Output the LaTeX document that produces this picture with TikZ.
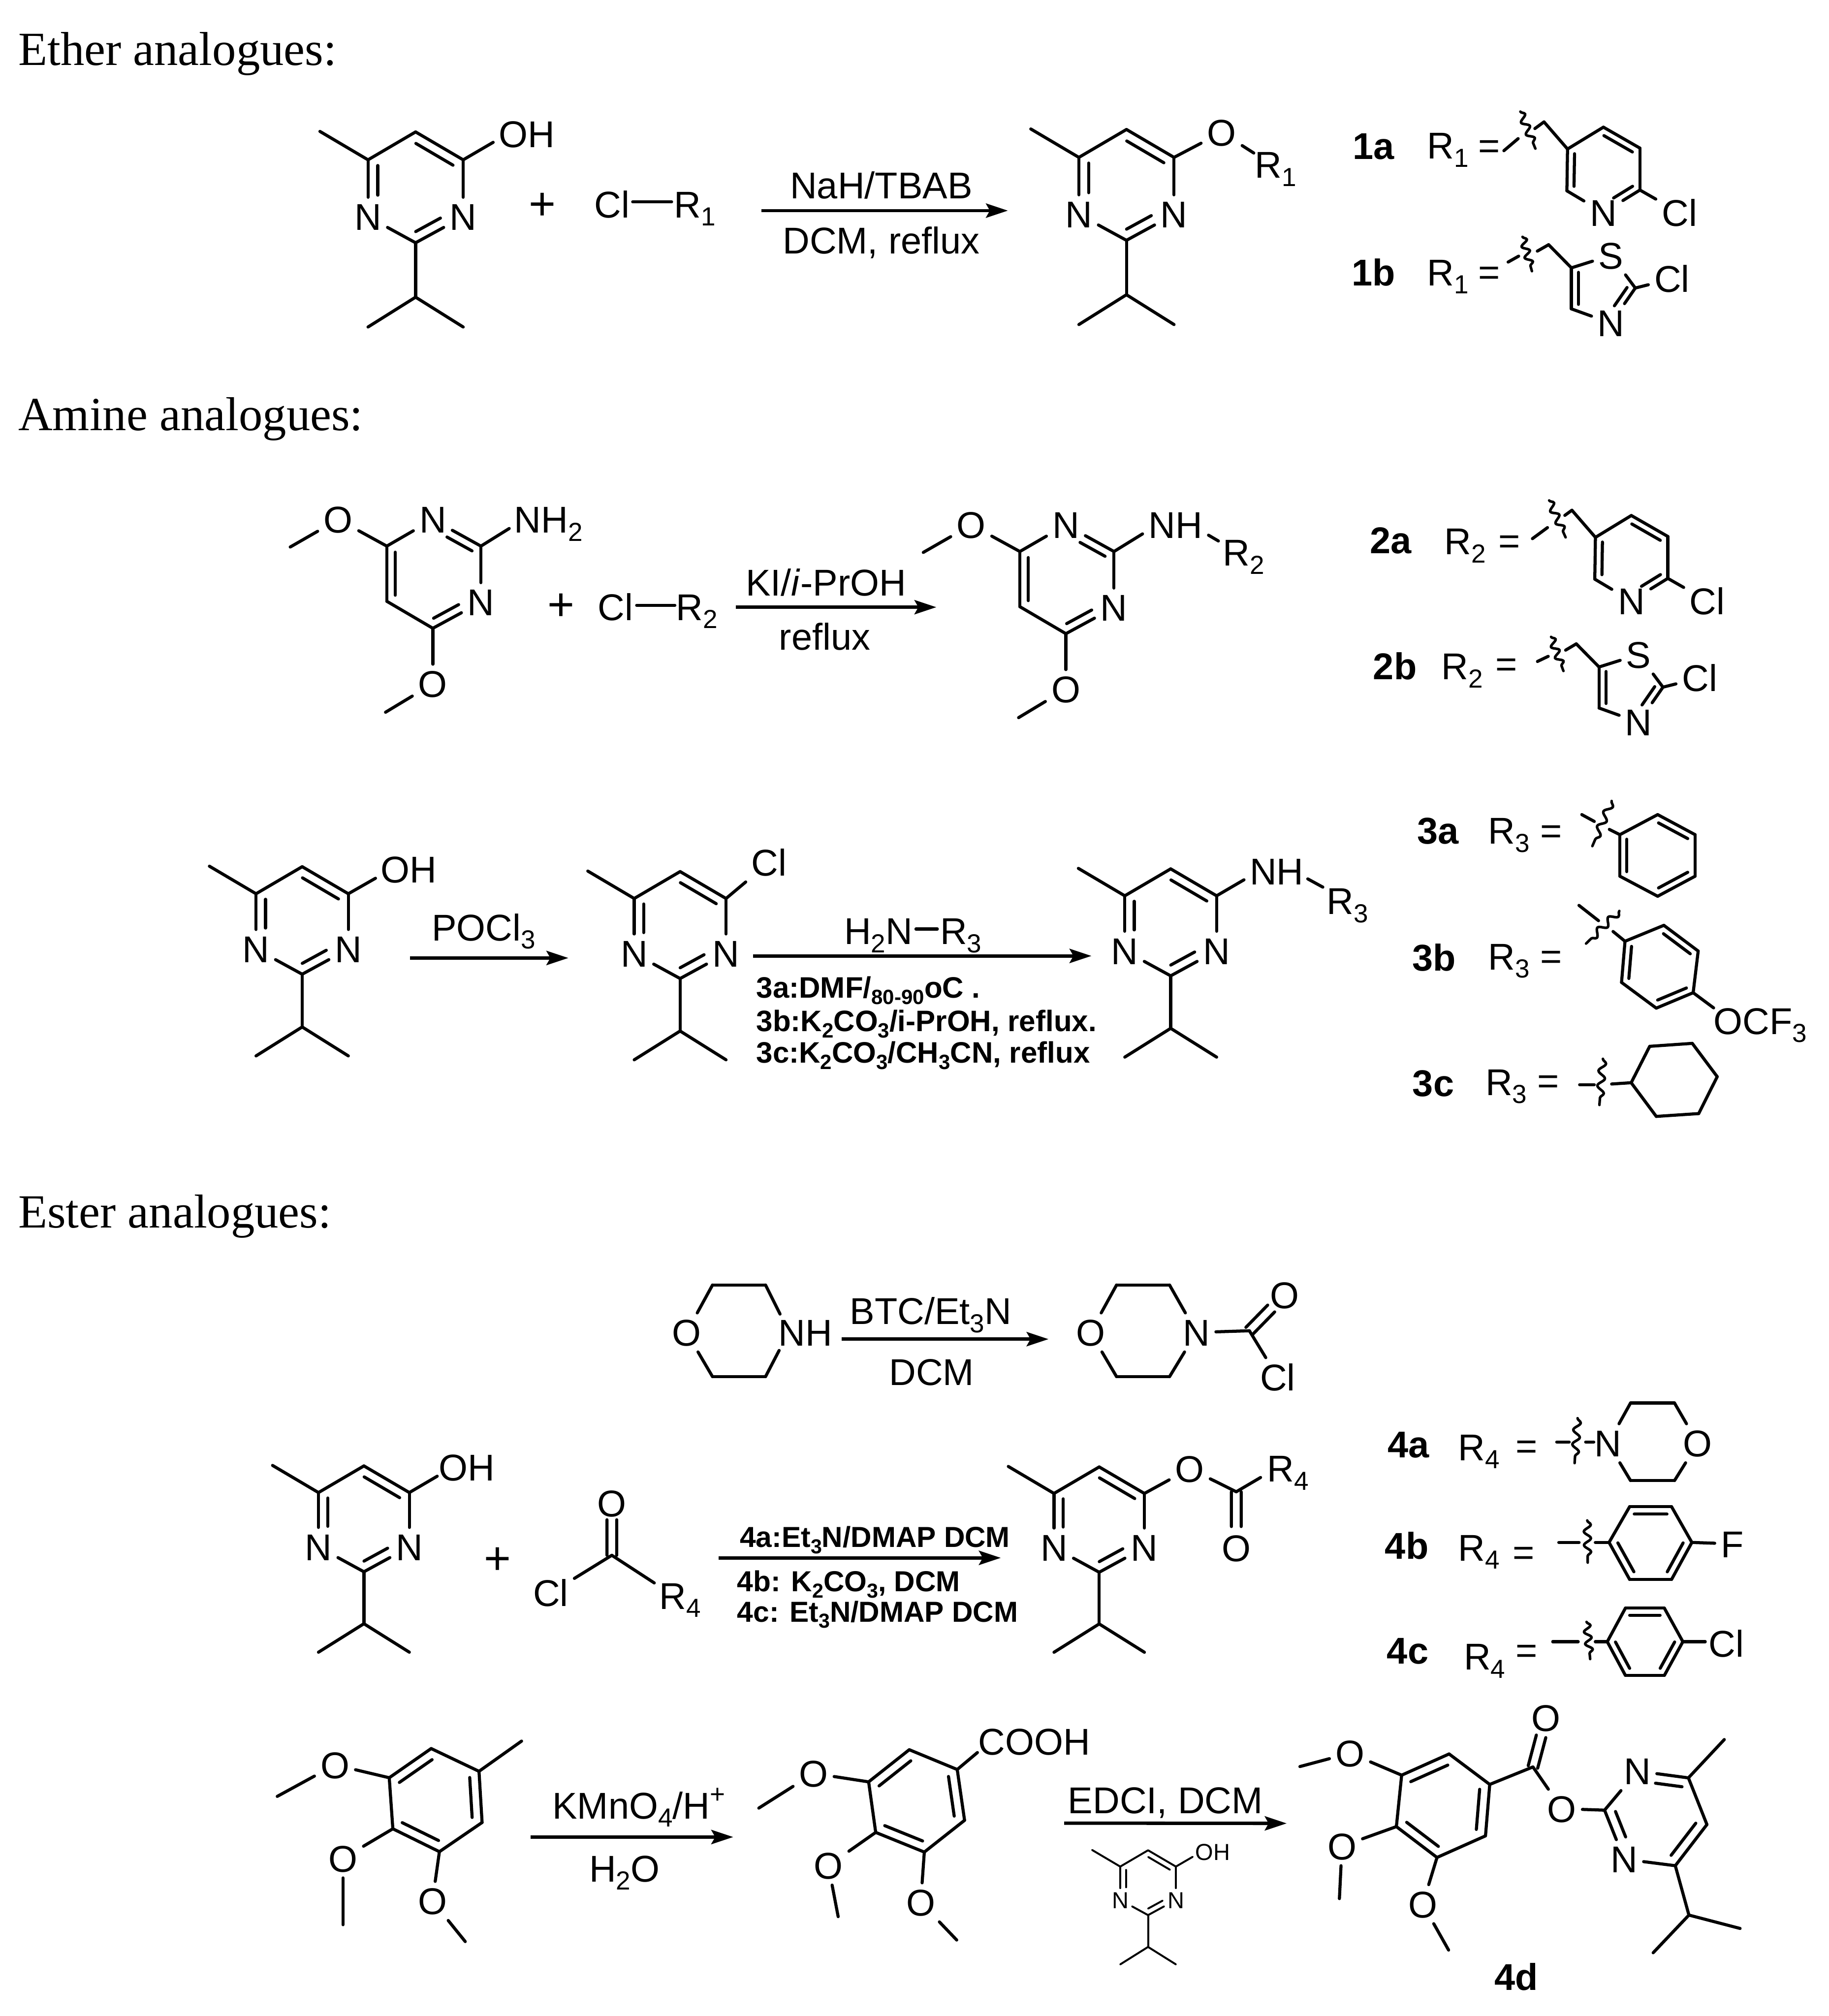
\documentclass[tikz,border=0pt]{standalone}
\usepackage{fontspec}
\setmainfont{Liberation Sans}
\newfontfamily\serf{Liberation Serif}
\usetikzlibrary{calc,arrows.meta,decorations.pathmorphing}
\newcommand{\lsub}[1]{\raisebox{-0.22em}{\scalebox{0.7}{#1}}}
\newcommand{\lsup}[1]{\raisebox{0.42em}{\scalebox{0.7}{#1}}}
\tikzset{
 bond/.style={line width=2.4pt,line cap=round},
 wvb/.style={line width=2pt,line cap=round},
 rxn/.style={line width=2.6pt,-{Stealth[length=17pt,width=11pt,inset=3pt]}},
 lab/.style={font=\fontsize{29}{29}\selectfont,inner sep=4.5pt,text height=21pt,text depth=0pt},
 wst/.style={anchor=west,xshift=-3.8pt},
 bb/.style={lab,font=\bfseries\fontsize{29}{29}\selectfont},
 slab/.style={font=\fontsize{18}{18}\selectfont,inner sep=2.5pt,text height=13pt,text depth=0pt},
 rg/.style={lab,anchor=west,inner sep=3pt,font=\bfseries\fontsize{22.5}{22.5}\selectfont,text height=16pt},
 rgb/.style={rg,font=\bfseries\fontsize{23}{23}\selectfont},
 hd/.style={font=\serf\fontsize{37}{37}\selectfont,inner sep=0pt,anchor=west},
 plusn/.style={font=\fontsize{36}{36}\selectfont,inner sep=0pt},
}
\newcommand{\atm}[3]{\coordinate (#1) at (#2,#3);}
\newcommand{\lbl}[4][]{\node[lab,#1] (#2) at (#3) {#4};}
\newcommand{\bnd}[2]{\draw[bond] (#1) -- (#2);}
\newcommand{\dblx}[5][7.5]{\draw[bond] (#2) -- (#3);\draw[bond] ($(#2)!#4!(#3)!#1pt!-90:(#3)$) -- ($(#2)!#5!(#3)!#1pt!-90:(#3)$);}
\newcommand{\dbl}[3][7.5]{\dblx[#1]{#2}{#3}{0.11}{0.89}}
\newcommand{\dblN}[3][7.5]{\dblx[#1]{#2}{#3}{0.1}{0.62}}
\newcommand{\Ndbl}[3][7.5]{\dblx[#1]{#2}{#3}{0.38}{0.9}}
\newcommand{\dblc}[3]{\draw[bond] ($(#1)!3.8pt!90:(#2)$) -- ($(#1)!#3!(#2)!3.8pt!90:(#2)$);\draw[bond] ($(#1)!3.8pt!-90:(#2)$) -- ($(#1)!#3!(#2)!3.8pt!-90:(#2)$);}
\newcommand{\wav}[2]{\draw[wvb] let \p1=($(#2)-(#1)$),\n1={veclen(\x1,\y1)/3.1} in decorate[decoration={snake,segment length=\n1,amplitude=2.7pt}] {(#1) -- (#2)};}
% stub + wavy line
\newcommand{\wvs}[5]{\coordinate (#1s1) at (#2);\coordinate (#1s2) at (#3);\coordinate (#1w1) at (#4);\coordinate (#1w2) at (#5);\bnd{#1s1}{#1s2}\wav{#1w1}{#1w2}}
% pyrimidine with methyl and isopropyl
\newcommand{\pyrim}[5]{%
 \begin{scope}[shift={(#2,#3)},scale=#4]
  \coordinate (#1c5) at (0,0);\coordinate (#1c6) at (-37,21.7);\coordinate (#1c4) at (37,21.7);
  \node[#5] (#1n1) at (-37,66) {N};\node[#5] (#1n3) at (37,66) {N};
  \coordinate (#1c2) at (0,86.2);\coordinate (#1ch) at (0,128.5);
  \coordinate (#1m1) at (-37,151.7);\coordinate (#1m2) at (37,151.7);\coordinate (#1me) at (-74.4,-0.4);
 \end{scope}
 \pgfmathsetmacro\po{7.6*#4}
 \bnd{#1me}{#1c6}\bnd{#1c6}{#1c5}\dbl[\po]{#1c5}{#1c4}\bnd{#1c4}{#1n3}\Ndbl[\po]{#1n3}{#1c2}
 \bnd{#1c2}{#1n1}\Ndbl[\po]{#1n1}{#1c6}\bnd{#1c2}{#1ch}\bnd{#1ch}{#1m1}\bnd{#1ch}{#1m2}}
% dimethoxypyrimidine
\newcommand{\dmp}[3]{%
 \begin{scope}[shift={(#2,#3)}]
  \lbl{#1o1}{263,404}{O}\lbl{#1n1}{336.6,404}{N}\lbl{#1n3}{374,468.3}{N}\lbl{#1o2}{336.6,531.7}{O}
  \atm{#1t1}{225.7}{425.4}\atm{#1c4}{300.8}{424.7}\atm{#1c2}{374}{424.7}
  \atm{#1c5}{300.8}{467.6}\atm{#1c6}{336.6}{488.6}\atm{#1t2}{299.8}{553.9}
 \end{scope}
 \bnd{#1t1}{#1o1}\bnd{#1o1}{#1c4}\bnd{#1c4}{#1n1}\Ndbl[6.6]{#1n1}{#1c2}\bnd{#1c2}{#1n3}\Ndbl[6.6]{#1n3}{#1c6}
 \bnd{#1c6}{#1c5}\dbl[6.6]{#1c5}{#1c4}\bnd{#1c6}{#1o2}\bnd{#1o2}{#1t2}}
% chloropyridinylmethyl
\newcommand{\clpy}[3]{%
 \begin{scope}[shift={(#2,#3)}]
  \atm{#1a}{0}{0}\atm{#1b}{27.9}{-17}\atm{#1c}{56.3}{-0.7}\atm{#1d}{56.3}{31.9}\atm{#1f}{-0.5}{32.5}\atm{#1m}{-18.3}{-21.1}
  \lbl{#1n}{27.9,49.4}{N}\lbl{#1x}{87,49.4}{Cl}
 \end{scope}
 \bnd{#1m}{#1a}\bnd{#1a}{#1b}\dbl[5.5]{#1b}{#1c}\bnd{#1c}{#1d}\dblN[5.5]{#1d}{#1n}\bnd{#1n}{#1f}\dbl[5.5]{#1f}{#1a}\bnd{#1d}{#1x}}
% chlorothiazolylmethyl
\newcommand{\cltz}[3]{%
 \begin{scope}[shift={(#2,#3)}]
  \atm{#1a}{0}{0}\atm{#1c}{49.7}{15.7}\atm{#1d}{0}{31.9}\atm{#1m}{-17.7}{-18}
  \lbl{#1s}{30.8,-9.7}{S}\lbl{#1n}{30.8,43}{N}\lbl{#1x}{78.2,8.5}{Cl}
 \end{scope}
 \bnd{#1m}{#1a}\bnd{#1a}{#1s}\bnd{#1s}{#1c}\dblN[5.5]{#1c}{#1n}\bnd{#1n}{#1d}\dbl[5.5]{#1d}{#1a}\bnd{#1c}{#1x}}
% trimethoxyphenyl
\newcommand{\tmp}{}
\renewcommand{\tmp}[1]{%
 \bnd{#1a}{#1b}\dbl[7.5]{#1b}{#1c}\bnd{#1c}{#1d}\dbl[7.5]{#1d}{#1e}\bnd{#1e}{#1f}\dbl[7.5]{#1f}{#1a}
 \bnd{#1f}{#1o1}\bnd{#1o1}{#1t1}\bnd{#1e}{#1o2}\bnd{#1o2}{#1t2}\bnd{#1d}{#1o3}\bnd{#1o3}{#1t3}}
\begin{document}
\begin{tikzpicture}[x=1pt,y=-1pt]
\useasboundingbox (0,0) rectangle (1422,1567.8);
\fill[white] (0,0) rectangle (1422,1567.8);
% headings
\node[hd] (h1) at (14,42) {Ether analogues:};
\node[hd] (h2) at (14,326) {Amine analogues:};
\node[hd] (h3) at (14,946) {Ester analogues:};
% ---------- Ether row
\pyrim{a}{323.2}{102.6}{1}{lab}
\atm{aoe}{383.5}{110.7}\lbl{aoh}{409.7,104.1}{OH}\bnd{ac4}{aoe}
\node[plusn] (p1) at (421.7,160.5) {+};
\lbl{acl}{476,158.8}{Cl}\lbl[wst]{arr}{523.3,158.8}{R\lsub{1}}
\atm{ab1}{492}{157}\atm{ab2}{522.3}{157}\bnd{ab1}{ab2}
\atm{r1s}{592}{163.8}\atm{r1e}{783.8}{163.8}\draw[rxn] (r1s) -- (r1e);
\lbl{r1t}{685.3,144}{NaH/TBAB}\lbl{r1b}{685.3,186.8}{DCM, reflux}
\pyrim{b}{876}{100.7}{1}{lab}
\lbl{bo}{950,103}{O}\atm{ber}{975}{119}\bnd{bc4}{bo}\bnd{bo}{ber}
\lbl[wst]{brr}{975,128}{R\lsub{1}}
\lbl[bb]{l1a}{1068,113.3}{1a}\lbl[wst]{r1a}{1109,113}{R\lsub{1}}\lbl{e1a}{1158,112.9}{=}
\wvs{wa}{1169.5,117.2}{1180.6,107.8}{1182.3,86.8}{1194,115.6}
\atm{wae}{1193.6}{100}
\clpy{pa}{1219}{115.9}\bnd{wae}{pam}
\lbl[bb]{l1b}{1068,211.6}{1b}\lbl[wst]{r1b2}{1109,211.6}{R\lsub{1}}\lbl{e1b}{1158,211.5}{=}
\wvs{wb}{1172.8,203.8}{1181,199.2}{1184,184.2}{1191.3,210.9}
\atm{wbe}{1195.5}{195.3}
\cltz{ta}{1222}{208.3}\bnd{wbe}{tam}
% ---------- Amine row 1
\dmp{c}{0}{0}
\lbl[wst]{cnh}{399,404}{NH\lsub{2}}\atm{cne}{396}{411}\bnd{cc2}{cne}
\node[plusn] (p2) at (436.3,472) {+};
\lbl{ccl}{478.7,471.8}{Cl}\lbl[wst]{crr}{525,471.8}{R\lsub{2}}
\atm{cb1}{495.1}{470.7}\atm{cb2}{524.8}{470.7}\bnd{cb1}{cb2}
\atm{r2s}{572.3}{472.2}\atm{r2e}{728.2}{472.2}\draw[rxn] (r2s) -- (r2e);
\lbl{r2t}{642.3,453}{KI/\textit{i}-PrOH}\lbl{r2b}{641.3,495}{reflux}
\dmp{d}{492.3}{4.2}
\lbl[wst]{dnh}{892.4,408.2}{NH}\atm{dn1}{888.5}{415.2}\bnd{dc2}{dn1}
\atm{dn2}{939.8}{416.2}\atm{dn3}{947.5}{420.7}\bnd{dn2}{dn3}
\lbl[wst]{drr}{950,429.6}{R\lsub{2}}
\lbl[bb]{l2a}{1081.6,420}{2a}\lbl[wst]{r2a}{1122.3,420.7}{R\lsub{2}}\lbl{e2a}{1173.6,420.4}{=}
\wvs{wc}{1191.7,418.9}{1203.4,410.3}{1204.7,389.2}{1217.5,417.9}
\atm{wce}{1216.9}{400.8}
\clpy{pb}{1240.7}{417.9}\bnd{wce}{pbm}
\lbl[bb]{l2b}{1084.8,518}{2b}\lbl[wst]{r2b2}{1120.1,518}{R\lsub{2}}\lbl{e2b}{1171.5,515.8}{=}
\wvs{wd}{1195.6,514.4}{1204,510.4}{1206.2,495.3}{1215.8,521.8}
\atm{wde}{1217.5}{505.6}
\cltz{tb}{1243.5}{518.7}\bnd{wde}{tbm}
% ---------- Amine row 2
\pyrim{f}{235}{674}{0.97}{lab}
\lbl{foh}{318,676}{OH}\atm{foe}{292}{683}\bnd{fc4}{foe}
\atm{r3s}{319}{745}\atm{r3e}{442}{745}\draw[rxn] (r3s) -- (r3e);
\lbl{r3t}{376,721}{POCl\lsub{3}}
\pyrim{g}{528.9}{677.8}{0.965}{lab}
\lbl{gcl}{598,670.7}{Cl}\bnd{gc4}{gcl}
\atm{r4s}{585.8}{743.4}\atm{r4e}{848.8}{743.4}\draw[rxn] (r4s) -- (r4e);
\lbl[wst]{r4a}{655.6,724}{H\lsub{2}N}\lbl[wst]{r4c}{730.2,724}{R\lsub{3}}
\atm{r4b1}{712.3}{722.5}\atm{r4b2}{728.9}{722.5}\bnd{r4b1}{r4b2}
\node[rgb] (r4x) at (585,768) {3a:DMF/\lsub{80-90}oC .};
\node[rgb] (r4y) at (585,794) {3b:K\lsub{2}CO\lsub{3}/i-PrOH, reflux.};
\node[rgb] (r4z) at (585,818.4) {3c:K\lsub{2}CO\lsub{3}/CH\lsub{3}CN, reflux};
\pyrim{h}{910.4}{675.7}{0.965}{lab}
\lbl[wst]{hnh}{971,677.5}{NH}\atm{hn1}{967.4}{684.2}\bnd{hc4}{hn1}
\atm{hn2}{1017}{683.5}\atm{hn3}{1028.7}{689.9}\bnd{hn2}{hn3}
\lbl[wst]{hrr}{1031,700.5}{R\lsub{3}}
% R3 definitions
\lbl[bb]{l3a}{1118.4,645.9}{3a}\lbl[wst]{r3a}{1156.5,645.9}{R\lsub{3}}\lbl{e3a}{1206.3,645.9}{=}
\wvs{we}{1230.1,633.5}{1239.8,638.8}{1253.3,622.9}{1238.3,658}
\atm{wee}{1251.5}{645}
\atm{ka}{1259.7}{649.1}\atm{kb}{1289.1}{633.5}\atm{kc}{1318.2}{649.1}\atm{kd}{1318.2}{681.4}\atm{ke}{1289.1}{697}\atm{kf}{1259.7}{681.4}
\bnd{wee}{ka}\bnd{ka}{kb}\dbl[5.4]{kb}{kc}\bnd{kc}{kd}\dbl[5.4]{kd}{ke}\bnd{ke}{kf}\dbl[5.4]{kf}{ka}
\lbl[bb]{l3b}{1115.3,744.4}{3b}\lbl[wst]{r3b}{1156.5,743.6}{R\lsub{3}}\lbl{e3b}{1206.3,743.2}{=}
\wvs{wf}{1227.9,704.1}{1243.1,716}{1259.3,708.4}{1233.4,733.8}
\atm{wfe}{1254.4}{724.4}
\atm{ma}{1263.7}{732}\atm{mb}{1293.9}{719.6}\atm{mc}{1320.6}{739.6}\atm{md}{1316.7}{772}\atm{me}{1288}{784}\atm{mf}{1261}{764}
\bnd{wfe}{ma}\bnd{ma}{mb}\dbl[5.4]{mb}{mc}\bnd{mc}{md}\dbl[5.4]{md}{me}\bnd{me}{mf}\dbl[5.4]{mf}{ma}
\atm{moe}{1332.6}{783.8}\bnd{md}{moe}
\lbl[wst]{mocf}{1331.8,793.8}{OCF\lsub{3}}
\lbl[bb]{l3c}{1114.6,842}{3c}\lbl[wst]{r3c}{1154.3,841.2}{R\lsub{3}}\lbl{e3c}{1204,840.3}{=}
\wvs{wg}{1228.4,843.5}{1239.8,843.5}{1246.5,823.4}{1243.8,859.3}
\atm{wge}{1253.3}{843}
\atm{na}{1268.5}{842}\atm{nb}{1282.9}{813.7}\atm{nc}{1316}{811.4}\atm{nd}{1335.4}{837.3}\atm{ne}{1321}{866}\atm{nf}{1288}{868.2}
\bnd{wge}{na}\bnd{na}{nb}\bnd{nb}{nc}\bnd{nc}{nd}\bnd{nd}{ne}\bnd{ne}{nf}\bnd{nf}{na}
% ---------- Morpholine row
\lbl{qo}{533.9,1036.2}{O}\lbl[wst]{qnh}{604.5,1036.2}{NH}
\atm{qtl}{554.1}{999.3}\atm{qtr}{595.3}{999.3}\atm{qbl}{554.1}{1070.6}\atm{qbr}{595.3}{1070.6}
\atm{qn1}{606.6}{1021.9}\atm{qn2}{605.9}{1050.2}
\bnd{qo}{qtl}\bnd{qtl}{qtr}\bnd{qtr}{qn1}\bnd{qn2}{qbr}\bnd{qbr}{qbl}\bnd{qbl}{qo}
\atm{r5s}{654.6}{1041.4}\atm{r5e}{815.4}{1041.4}\draw[rxn] (r5s) -- (r5e);
\lbl{r5t}{723.8,1019.4}{BTC/Et\lsub{3}N}\lbl{r5b}{724.5,1066.6}{DCM}
\lbl{so}{848,1036.2}{O}\lbl{sn}{930.4,1036.2}{N}
\atm{stl}{868.3}{999.3}\atm{str}{909.5}{999.3}\atm{sbl}{868.3}{1070.6}\atm{sbr}{909.5}{1070.6}\atm{sc}{971.6}{1034.9}
\bnd{so}{stl}\bnd{stl}{str}\bnd{str}{sn}\bnd{sn}{sbr}\bnd{sbr}{sbl}\bnd{sbl}{so}\bnd{sn}{sc}
\lbl{soo}{998.9,1007}{O}\lbl{scl}{993.6,1071}{Cl}\dblc{sc}{soo}{0.62}\bnd{sc}{scl}
% ---------- Ester row
\pyrim{u}{283}{1140}{0.955}{lab}
\lbl{uoh}{363,1141}{OH}\atm{uoe}{340}{1148}\bnd{uc4}{uoe}
\node[plusn] (p3) at (387,1214) {+};
\lbl{voo}{475.8,1168.9}{O}\atm{vc}{475.8}{1209.5}\lbl{vcl}{428.3,1238.8}{Cl}\atm{vre}{508.8}{1231}
\dblc{vc}{voo}{0.68}\bnd{vc}{vcl}\bnd{vc}{vre}
\lbl[wst]{vr}{511.8,1240.8}{R\lsub{4}}
\atm{r6s}{559}{1211.5}\atm{r6e}{778.3}{1211.5}\draw[rxn] (r6s) -- (r6e);
\node[rg] (r6x) at (572.2,1195.2) {4a:Et\lsub{3}N/DMAP DCM};
\node[rg] (r6y) at (570.1,1229.7) {4b: K\lsub{2}CO\lsub{3}, DCM};
\node[rg] (r6z) at (570.1,1253.2) {4c: Et\lsub{3}N/DMAP DCM};
\pyrim{w}{854.8}{1140.8}{0.95}{lab}
\lbl{wo}{925.2,1142.1}{O}\atm{wc}{961.4}{1160.1}\atm{wre}{980.3}{1149}\bnd{wc4}{wo}\bnd{wo}{wc}\bnd{wc}{wre}
\lbl[wst]{wr}{984.5,1141.8}{R\lsub{4}}\lbl{woo}{961.4,1203.7}{O}\dblc{wc}{woo}{0.62}
% R4 definitions
\lbl[bb]{l4a}{1095.4,1122.9}{4a}\lbl[wst]{r4aa}{1133.1,1125.2}{R\lsub{4}}\lbl{e4a}{1187,1124}{=}
\wvs{wh}{1210.6,1121.4}{1220.3,1121.4}{1226.8,1102.9}{1224.5,1137.8}
\atm{whe}{1233.1}{1121.4}\atm{whf}{1239.4}{1121.4}\bnd{whe}{whf}
\lbl{xn}{1250.6,1122.4}{N}\lbl{xo}{1320.3,1122.4}{O}
\atm{xtl}{1268}{1091.1}\atm{xtr}{1302.2}{1091.1}\atm{xbr}{1302.2}{1151.4}\atm{xbl}{1268}{1151.4}
\bnd{xn}{xtl}\bnd{xtl}{xtr}\bnd{xtr}{xo}\bnd{xo}{xbr}\bnd{xbr}{xbl}\bnd{xbl}{xn}
\lbl[bb]{l4b}{1094,1201.8}{4b}\lbl[wst]{r4bb}{1133.1,1203.3}{R\lsub{4}}\lbl{e4b}{1185,1206.7}{=}
\wvs{wi}{1212.2,1199.5}{1228,1199.5}{1234.3,1182.4}{1234.7,1215.2}
\atm{wie}{1240.6}{1199.5}
\atm{ya}{1251.3}{1199.5}\atm{yb}{1267.3}{1171.7}\atm{yc}{1299.9}{1171.7}\atm{yd}{1315.7}{1199.5}\atm{ye}{1299.9}{1228.3}\atm{yf}{1267.3}{1228.3}
\bnd{wie}{ya}\bnd{ya}{yb}\dbl[5.8]{yb}{yc}\bnd{yc}{yd}\dbl[5.8]{yd}{ye}\bnd{ye}{yf}\dbl[5.8]{yf}{ya}
\lbl{yx}{1347,1200.6}{F}\bnd{yd}{yx}
\lbl[bb]{l4c}{1094.7,1283.3}{4c}\lbl[wst]{r4cc}{1137.5,1288}{R\lsub{4}}\lbl{e4c}{1187,1282.9}{=}
\wvs{wj}{1207.5,1276.7}{1227.3,1276.7}{1233.8,1261.3}{1236.6,1290.2}
\atm{wje}{1240.6}{1276.7}
\atm{za}{1249.9}{1276.7}\atm{zb}{1264}{1250.6}\atm{zc}{1294.3}{1250.6}\atm{zd}{1308.7}{1276.7}\atm{ze}{1294.3}{1302.9}\atm{zf}{1264}{1302.9}
\bnd{wje}{za}\bnd{za}{zb}\dbl[5.5]{zb}{zc}\bnd{zc}{zd}\dbl[5.5]{zd}{ze}\bnd{ze}{zf}\dbl[5.5]{zf}{za}
\lbl{zx}{1342.4,1278}{Cl}\atm{zxe}{1326.1}{1276.7}\bnd{zd}{zxe}
% ---------- Bottom row
\atm{aaa}{335.3}{1359.8}\atm{aab}{372.5}{1377.5}\atm{aac}{374.9}{1417.3}\atm{aad}{341.7}{1440}\atm{aae}{305.5}{1422.2}\atm{aaf}{302.7}{1382.5}
\atm{aam}{405.6}{1354}\lbl{aao1}{260.5,1372.5}{O}\lbl{aao2}{266.7,1445.2}{O}\lbl{aao3}{336.3,1478.3}{O}
\atm{aat1}{215.6}{1397}\atm{aat2}{266.7}{1496.8}\atm{aat3}{361.8}{1509.9}
\tmp{aa}\bnd{aab}{aam}
\atm{r7s}{412.7}{1428.6}\atm{r7e}{570.2}{1428.6}\draw[rxn] (r7s) -- (r7e);
\lbl[wst]{r7t}{428.7,1403.8}{KMnO\lsub{4}/H\lsup{+}}\lbl{r7b}{485.6,1452.8}{H\lsub{2}O}
\atm{aba}{707.1}{1360.7}\atm{abb}{744.4}{1376.1}\atm{abc}{750.1}{1415.6}\atm{abd}{718.8}{1440.3}\atm{abe}{681}{1425}\atm{abf}{675.5}{1385.7}
\lbl{abo1}{632.7,1379.1}{O}\lbl{abo2}{644.2,1450.8}{O}\lbl{abo3}{716,1479.4}{O}
\atm{abt1}{590.1}{1406.1}\atm{abt2}{651.8}{1490.5}\atm{abt3}{744}{1508.7}
\tmp{ab}
\atm{abx}{760.1}{1362.9}\bnd{abb}{abx}\lbl[wst]{abh}{759.9,1354.4}{COOH}
\atm{r8s}{827.6}{1417.8}\atm{r8e}{1000.6}{1418}\draw[rxn] (r8s) -- (r8e);
\lbl{r8t}{906.3,1399.7}{EDCI, DCM}
\begin{scope}[bond/.style={line width=1.5pt,line cap=round}]
\pyrim{e}{892.8}{1438.9}{0.585}{slab}
\node[slab] (eoh) at (943.2,1440.2) {OH};\atm{eoe}{927.5}{1444}\bnd{ec4}{eoe}
\end{scope}
\atm{aca}{1126.9}{1364}\atm{acb}{1158.5}{1387.7}\atm{acc}{1155.2}{1427.7}\atm{acd}{1117.5}{1444.5}\atm{ace}{1085.9}{1420.5}\atm{acf}{1090}{1380.5}
\lbl{aco1}{1049.8,1363.4}{O}\lbl{aco2}{1043.6,1435.7}{O}\lbl{aco3}{1106.4,1480.8}{O}
\atm{act1}{1010.9}{1373.8}\atm{act2}{1041.6}{1476.5}\atm{act3}{1126.5}{1516.5}
\tmp{ac}
\atm{adc}{1192.1}{1374.1}\lbl{adoo}{1202.3,1335.7}{O}\lbl{ado}{1214.6,1406.6}{O}
\bnd{acb}{adc}\dblc{adc}{adoo}{0.62}\bnd{adc}{ado}
\atm{ad2}{1247.8}{1407.7}\lbl{adn1}{1273.3,1377.3}{N}\atm{ad6}{1313}{1382.6}\atm{ad5}{1327.4}{1418.9}\atm{ad4}{1302.8}{1450.9}\lbl{adn3}{1263,1445.8}{N}
\atm{adm}{1340.9}{1352.8}\atm{adh}{1313.4}{1489.3}\atm{adt1}{1285.6}{1518.6}\atm{adt2}{1353.2}{1499.7}
\bnd{ado}{ad2}\bnd{ad2}{adn1}\Ndbl[7.5]{adn1}{ad6}\bnd{ad6}{ad5}\dbl[7.5]{ad5}{ad4}\bnd{ad4}{adn3}\Ndbl[7.5]{adn3}{ad2}
\bnd{ad6}{adm}\bnd{ad4}{adh}\bnd{adh}{adt1}\bnd{adh}{adt2}
\lbl[bb]{l4d}{1179,1537.3}{4d}
\end{tikzpicture}
\end{document}
